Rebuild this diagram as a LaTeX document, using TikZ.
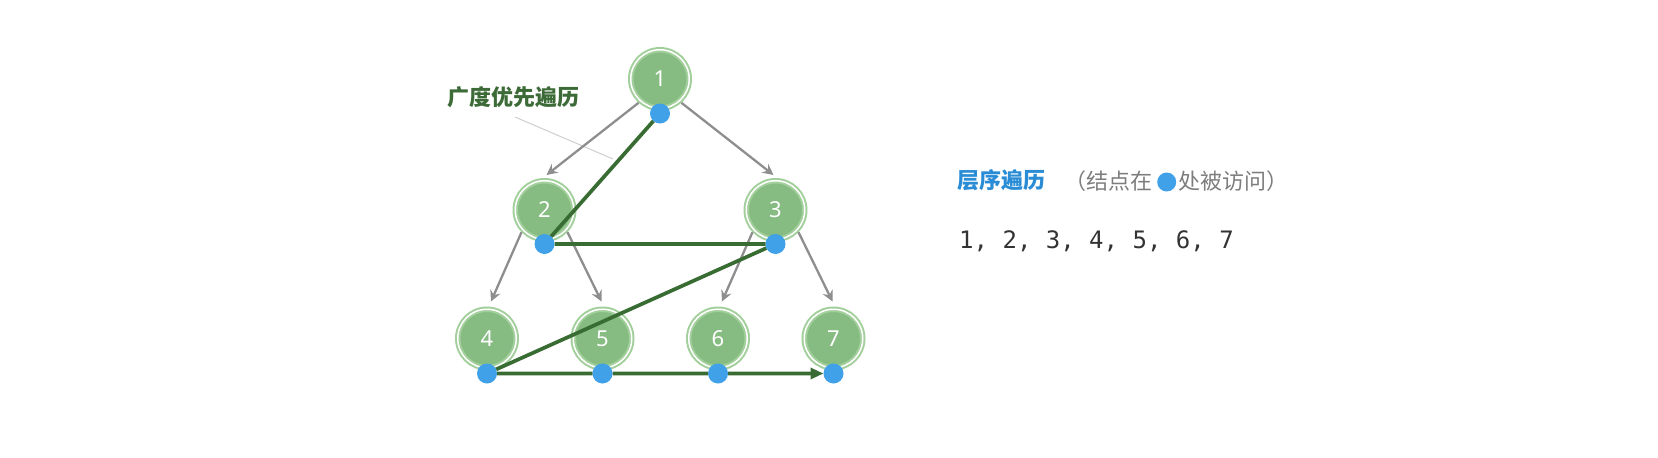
\documentclass[tikz,border=0pt]{standalone}
\usepackage{fontspec}
\newfontfamily\cjk{Noto Sans CJK SC}
\newfontfamily\numfont{Noto Sans}
\newfontfamily\seqfont{DejaVu Sans Mono}
\usetikzlibrary{arrows.meta}
\definecolor{nodefill}{HTML}{86BC81}
\definecolor{ringgreen}{HTML}{A2CF9B}
\definecolor{dotblue}{HTML}{41A1E8}
\definecolor{edgegrey}{HTML}{8E8E8E}
\definecolor{pathgreen}{HTML}{386C33}
\definecolor{labelgreen}{HTML}{3C6B37}
\definecolor{titleblue}{HTML}{2B8CD6}
\definecolor{notegrey}{HTML}{7D7D7D}
\definecolor{seqgrey}{HTML}{333333}
\definecolor{pointergrey}{HTML}{CFCFCF}
\pgfdeclarelayer{bg}
\pgfsetlayers{bg,main}
\tikzset{
  treenode/.style={circle, minimum size=58.5pt, inner sep=0pt, outer sep=2.75pt,
    fill=nodefill, draw=ringgreen, line width=2pt, double=white, double distance=1.5pt,
    text=white, font=\numfont\fontsize{22}{24}\selectfont},
  visitdot/.style={circle, fill=dotblue, minimum size=20pt, inner sep=0pt, outer sep=0pt},
  treeedge/.style={draw=edgegrey, line width=2.3pt, -{Stealth[length=11pt,width=11pt,inset=4pt]}},
  bfspath/.style={draw=pathgreen, line width=3.7pt, -{Triangle[length=13pt,width=11pt]}},
  pointer/.style={draw=pointergrey, line width=1pt},
}
\begin{document}
\begin{tikzpicture}[x=1pt,y=-1pt]
\useasboundingbox (0,0) rectangle (1658,458);
% visit dots (top layer)
\node[visitdot] (d1) at (660,113.5) {};
\node[visitdot] (d2) at (544.5,244) {};
\node[visitdot] (d3) at (775.5,244) {};
\node[visitdot] (d4) at (487,373.5) {};
\node[visitdot] (d5) at (602.5,373.5) {};
\node[visitdot] (d6) at (718,373.5) {};
\node[visitdot] (d7) at (833.5,373.5) {};
\begin{pgfonlayer}{bg}
\node[treenode] (n1) at (660,79) {1};
\node[treenode] (n2) at (544.5,210) {2};
\node[treenode] (n3) at (775.5,210) {3};
\node[treenode] (n4) at (487,338.5) {4};
\node[treenode] (n5) at (602.5,338.5) {5};
\node[treenode] (n6) at (718,338.5) {6};
\node[treenode] (n7) at (833.5,338.5) {7};
% pointer of the label
\coordinate (p1) at (515,117);
\coordinate (p2) at (613,159);
\draw[pointer] (p1) -- (p2);
% tree edges
\draw[treeedge] (n1.-132) -- ([xshift=2pt,yshift=3pt]n2.north);
\draw[treeedge] (n1.-48) -- ([xshift=-2pt,yshift=3pt]n3.north);
\draw[treeedge] (n2.-136) -- ([xshift=4pt,yshift=5pt]n4.north);
\draw[treeedge] (n2.-44) -- ([xshift=-1pt,yshift=5pt]n5.north);
\draw[treeedge] (n3.-136) -- ([xshift=4pt,yshift=5pt]n6.north);
\draw[treeedge] (n3.-44) -- ([xshift=-1pt,yshift=5pt]n7.north);
% traversal path
\draw[bfspath] (d1) -- (d2) -- (d3) -- (d4) -- (d5) -- (d6) -- (d7);
\end{pgfonlayer}
% label
\node[font=\cjk\bfseries\fontsize{22}{26}\selectfont, text=labelgreen, inner sep=0pt] (lbl) at (513,97) {广度优先遍历};
% right side text
\node[anchor=west, inner sep=0pt, font=\cjk\bfseries\fontsize{22}{26}\selectfont, text=titleblue] (title) at (957,180) {层序遍历};
\node[anchor=west, inner sep=0pt, font=\cjk\fontsize{22}{26}\selectfont, text=notegrey] (note1) at (1064,181) {（结点在};
\node[visitdot, minimum size=19pt] (ndot) at (1166.7,182) {};
\node[anchor=west, inner sep=0pt, font=\cjk\fontsize{22}{26}\selectfont, text=notegrey] (note2) at (1178,181) {处被访问）};
\node[anchor=base west, inner sep=0pt, font=\seqfont\fontsize{24}{28}\selectfont, text=seqgrey] (seq) at (959,248.3) {1, 2, 3, 4, 5, 6, 7};
\end{tikzpicture}
\end{document}
